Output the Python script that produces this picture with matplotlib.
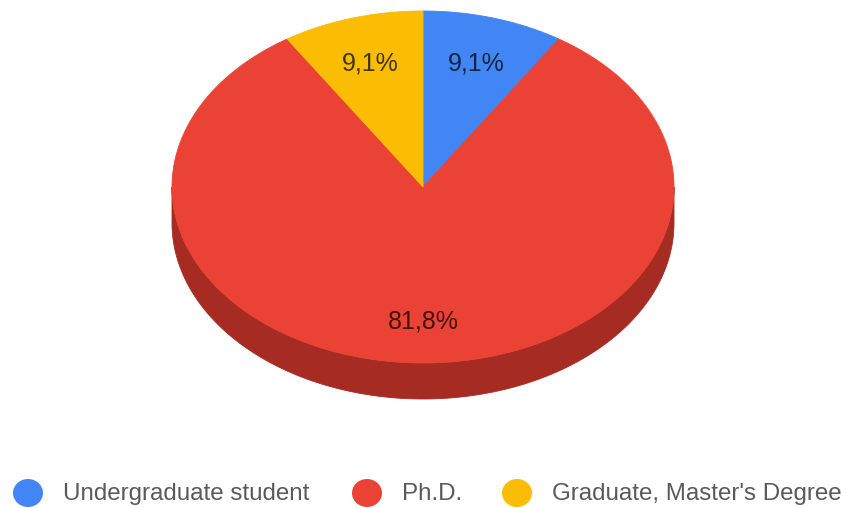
import matplotlib
matplotlib.use("Agg")
import matplotlib.pyplot as plt
import numpy as np
from matplotlib.patches import Polygon, Ellipse

# answer shares, clockwise from 12 o'clock
labels = ["Undergraduate student", "Ph.D.", "Graduate, Master's Degree"]
shares = [9.1, 81.8, 9.1]
colors = ["#4285f4", "#ea4335", "#fbbc04"]
side_colors = ["#2f62b8", "#a62b22", "#b38604"]

W, H = 847, 508
CX, CY = 423, 187          # centre of the top face (pixels)
RX, RY = 251, 176          # radii of the tilted disc
DEPTH = 36                 # thickness of the rim
LABEL_R = 0.75
LABEL_DY = 3

plt.rcParams["font.family"] = ["Liberation Sans", "DejaVu Sans"]

fig = plt.figure(figsize=(W / 100, H / 100), dpi=100)
ax = fig.add_axes((0, 0, 1, 1))
ax.set_xlim(0, W)
ax.set_ylim(H, 0)
ax.axis("off")


def rim(t0, t1, dy=0.0, n=240):
    t = np.linspace(t0, t1, n)
    return np.column_stack([CX + RX * np.sin(t), CY - RY * np.cos(t) + dy])


bounds = np.concatenate([[0], np.cumsum(shares)]) / sum(shares) * 2 * np.pi

# rim first: only the front half (pi/2 .. 3pi/2) is visible
for (a0, a1), sc in zip(zip(bounds[:-1], bounds[1:]), side_colors):
    lo, hi = max(a0, np.pi / 2), min(a1, 3 * np.pi / 2)
    if hi <= lo:
        continue
    pts = np.vstack([rim(lo, hi), rim(lo, hi, DEPTH)[::-1]])
    ax.add_patch(Polygon(pts, closed=True, fc=sc, ec=sc, lw=0.6))

# top face wedges and their labels
for (a0, a1), c, v in zip(zip(bounds[:-1], bounds[1:]), colors, shares):
    pts = np.vstack([[CX, CY], rim(a0, a1)])
    ax.add_patch(Polygon(pts, closed=True, fc=c, ec=c, lw=0.6))
    mid = (a0 + a1) / 2
    lx = CX + RX * LABEL_R * np.sin(mid)
    ly = CY - RY * LABEL_R * np.cos(mid) + LABEL_DY
    ax.text(lx, ly, f"{v:.1f}%".replace(".", ","), ha="center", va="center",
            fontsize=18, color="black", alpha=0.72)

# legend row along the bottom
legend_x = [28, 367, 517]
LEG_Y = 493
for x, lab, c in zip(legend_x, labels, colors):
    ax.add_patch(Ellipse((x, LEG_Y), 30, 28, fc=c, ec="none"))
    ax.text(x + 35, LEG_Y + 1, lab, ha="left", va="center",
            fontsize=17.4, color="#5a5a5a")

fig.savefig("out.png", dpi=100)
